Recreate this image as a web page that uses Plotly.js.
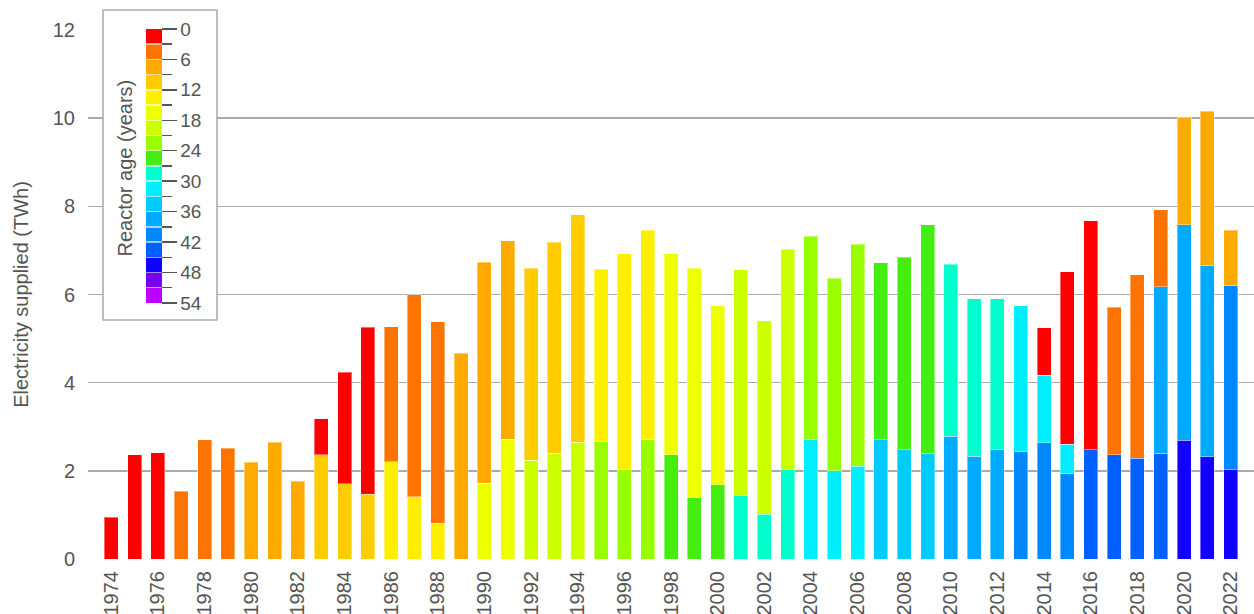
<!DOCTYPE html>
<html>
<head>
<meta charset="utf-8">
<script src="https://cdn.plot.ly/plotly-3.0.1.min.js"></script>
<style>html,body{margin:0;padding:0;background:#fff;}#chart{width:1254px;height:614px;}</style>
</head>
<body>
<div id="chart"></div>
<script>
// Age bins (start of each 3-year bin) and their colours
var ageBins = [0, 3, 6, 9, 12, 15, 18, 21, 24, 27, 30, 33, 36, 39, 42, 45, 48, 51];
var binColors = ['#ff0000', '#ff7300', '#ffaa00', '#ffcc00', '#ffee00', '#eeff00', '#ccff00', '#99ff00', '#44ee11',
                 '#00ffcc', '#00eeff', '#00ccff', '#00aaff', '#0088ff', '#0060ff', '#1100ff', '#7700ee', '#bb00ff'];
var colorbarTicks = [0, 3, 6, 9, 12, 15, 18, 21, 24, 27, 30, 33, 36, 39, 42, 45, 48, 51, 54];
var xTickYears = [1974, 1976, 1978, 1980, 1982, 1984, 1986, 1988, 1990, 1992, 1994, 1996, 1998, 2000,
                  2002, 2004, 2006, 2008, 2010, 2012, 2014, 2016, 2018, 2020, 2022];

// Stacked segments: year, age bin of the segment, electricity supplied (TWh)
var segYear = [
  1974, 1975, 1976, 1977, 1978, 1979, 1980, 1981, 1982,
  1983, 1983, 1984, 1984, 1985, 1985, 1986, 1986, 1987, 1987, 1988, 1988, 1989,
  1990, 1990, 1991, 1991, 1992, 1992, 1993, 1993, 1994, 1994, 1995, 1995, 1996, 1996,
  1997, 1997, 1998, 1998, 1999, 1999, 2000, 2000, 2001, 2001, 2002, 2002, 2003, 2003,
  2004, 2004, 2005, 2005, 2006, 2006, 2007, 2007, 2008, 2008, 2009, 2009,
  2010, 2010, 2011, 2011, 2012, 2012, 2013, 2013,
  2014, 2014, 2014, 2015, 2015, 2015, 2016, 2016, 2017, 2017, 2018, 2018,
  2019, 2019, 2019, 2020, 2020, 2020, 2021, 2021, 2021, 2022, 2022, 2022
];
var segAge = [
  0, 0, 0, 3, 3, 3, 6, 6, 6,
  9, 0, 9, 0, 9, 0, 12, 3, 12, 3, 12, 3, 6,
  15, 6, 15, 6, 18, 9, 18, 9, 18, 9, 21, 12, 21, 12,
  21, 12, 24, 15, 24, 15, 24, 15, 27, 18, 27, 18, 27, 18,
  30, 21, 30, 21, 30, 21, 33, 24, 33, 24, 33, 24,
  36, 27, 36, 27, 36, 27, 39, 30,
  39, 30, 0, 39, 30, 0, 42, 0, 42, 3, 42, 3,
  42, 36, 3, 45, 36, 6, 45, 36, 6, 45, 39, 6
];
var segValue = [
  0.95, 2.36, 2.41, 1.54, 2.71, 2.51, 2.19, 2.65, 1.76,
  2.36, 0.82, 1.71, 2.53, 1.47, 3.79, 2.21, 3.06, 1.41, 4.58, 0.81, 4.57, 4.67,
  1.72, 5.01, 2.72, 4.50, 2.24, 4.35, 2.40, 4.78, 2.65, 5.16, 2.66, 3.91, 2.03, 4.90,
  2.72, 4.74, 2.37, 4.56, 1.39, 5.21, 1.68, 4.06, 1.44, 5.12, 1.01, 4.39, 2.02, 5.01,
  2.72, 4.60, 2.00, 4.37, 2.10, 5.04, 2.71, 4.01, 2.48, 4.36, 2.40, 5.18,
  2.78, 3.91, 2.33, 3.57, 2.48, 3.42, 2.45, 3.29,
  2.64, 1.53, 1.08, 1.95, 0.65, 3.92, 2.48, 5.19, 2.36, 3.35, 2.28, 4.17,
  2.40, 3.78, 1.74, 2.69, 4.89, 2.44, 2.32, 4.34, 3.50, 2.03, 4.17, 1.26
];

var FONT = '"Liberation Sans", Arial, Helvetica, sans-serif';
var TXT = '#555555';

// One trace per age bin, oldest first so older reactors stack at the bottom
var traces = [];
for (var b = ageBins.length - 1; b >= 0; b--) {
  var xs = [], ys = [];
  for (var i = 0; i < segYear.length; i++) {
    if (segAge[i] === ageBins[b]) { xs.push(segYear[i]); ys.push(segValue[i]); }
  }
  if (!xs.length) continue;
  traces.push({
    type: 'bar', x: xs, y: ys, name: ageBins[b] + '',
    marker: {color: binColors[b], line: {color: 'rgba(255,255,255,0.4)', width: 1}},
    showlegend: false, hoverinfo: 'x+y'
  });
}

// Discrete colour scale for the colour bar (age 0 at the top: use negative ages)
var ageMax = colorbarTicks[colorbarTicks.length - 1];
var cscale = [];
for (var k = binColors.length - 1; k >= 0; k--) {
  var lo = (ageMax - ageBins[k] - 3) / ageMax, hi = (ageMax - ageBins[k]) / ageMax;
  cscale.push([lo, binColors[k]]);
  cscale.push([hi, binColors[k]]);
}
var innerTicks = colorbarTicks.slice(1, -1);
var majorTicks = colorbarTicks.filter(function (v) { return v % 6 === 0; });

function colorbarTrace(tickAges, labels, ticks, len, color) {
  return {
    type: 'scatter', mode: 'markers', x: [null], y: [null], showlegend: false, hoverinfo: 'skip',
    marker: {
      color: [0], cmin: -ageMax, cmax: 0, colorscale: cscale, showscale: true,
      colorbar: {
        x: 0.0497, xanchor: 'left', y: 1.002, yanchor: 'top',
        thickness: 16, thicknessmode: 'pixels', len: 274, lenmode: 'pixels',
        xpad: 0, ypad: 0, outlinewidth: 0, borderwidth: 0, bgcolor: 'rgba(0,0,0,0)',
        tickmode: 'array', tickvals: tickAges.map(function (v) { return -v; }),
        ticktext: tickAges.map(function (v) { return labels ? String(v) : ''; }),
        ticks: ticks, ticklen: len, tickwidth: 1.5, tickcolor: color,
        tickfont: {family: FONT, size: 19, color: TXT}
      }
    }
  };
}
traces.push(colorbarTrace(colorbarTicks, false, 'outside', 10, '#555'));
traces.push(colorbarTrace(majorTicks, true, 'outside', 15, '#555'));
traces.push(colorbarTrace(innerTicks, false, 'inside', 16, 'rgba(255,255,255,0.6)'));

var layout = {
  width: 1254, height: 614,
  margin: {l: 88, r: 0, t: 30, b: 55, pad: 0},
  paper_bgcolor: '#fff', plot_bgcolor: '#fff',
  barmode: 'stack', bargap: 0.4,
  font: {family: FONT, size: 19, color: TXT},
  xaxis: {
    range: [1973, 2023], tickmode: 'array', tickvals: xTickYears, ticktext: xTickYears.map(String),
    tickangle: -90, showgrid: false, zeroline: false, showline: false, ticks: '',
    ticklabelstandoff: 7, tickfont: {family: FONT, size: 20, color: TXT}, fixedrange: true
  },
  yaxis: {
    range: [0, 12], dtick: 2, tick0: 0, showgrid: true, gridcolor: '#aaaaaa', gridwidth: 1.5,
    zeroline: false, showline: false, ticks: '', ticklabelstandoff: 12,
    tickfont: {family: FONT, size: 20, color: TXT},
    title: {text: 'Electricity supplied (TWh)', font: {family: FONT, size: 20, color: TXT}, standoff: 18},
    fixedrange: true
  },
  shapes: [{
    type: 'rect', xref: 'paper', yref: 'paper', layer: 'above',
    x0: 0.0129, x1: 0.1106, y0: 0.452, y1: 1.0378,
    fillcolor: '#ffffff', line: {color: '#aaaaaa', width: 1.5}
  }],
  annotations: [{
    xref: 'paper', yref: 'paper', x: 0.0317, y: 0.74, text: 'Reactor age (years)',
    textangle: -90, showarrow: false, xanchor: 'center', yanchor: 'middle',
    font: {family: FONT, size: 20, color: TXT}
  }]
};

Plotly.newPlot('chart', traces, layout, {displayModeBar: false, staticPlot: true});
</script>
</body>
</html>
